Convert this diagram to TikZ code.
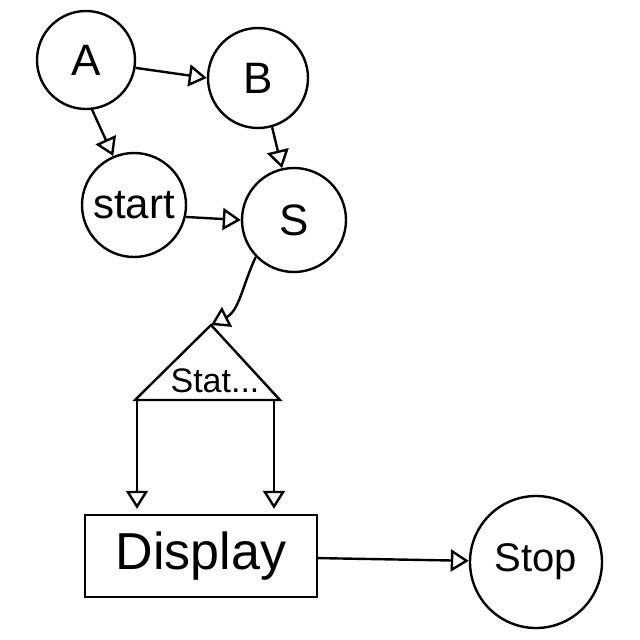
\documentclass[tikz,border=0pt]{standalone}
\usepackage{fontspec}
\setmainfont{Liberation Sans}
\usetikzlibrary{arrows.meta}

\begin{document}
\begin{tikzpicture}[x=1pt, y=-1pt, line width=2.4pt,
    state/.style={draw, circle, inner sep=0pt},
    flow/.style={-{Triangle[open, length=18pt, width=22pt]}},
    big/.style={font=\fontsize{44}{48}\selectfont}]
  \useasboundingbox (0,0) rectangle (640,640);
  % states
  \node[state, big, minimum size=98pt]  (A)     at (86,60)   {A};
  \node[state, big, minimum size=100pt] (B)     at (258,78)  {B};
  \node[state, minimum size=104pt, font=\fontsize{42}{46}\selectfont] (start) at (134,205) {start};
  \node[state, big, minimum size=104pt] (S)     at (294,220) {S};
  \node[state, minimum size=132pt, font=\fontsize{40}{44}\selectfont] (stop) at (536,562) {Stop};
  % decision triangle
  \coordinate (apex) at (211,325);
  \coordinate (bl) at (137,400);
  \coordinate (br) at (274,400);
  \draw (apex) -- (135,400) -- (280,400) -- cycle;
  \node[font=\fontsize{34}{38}\selectfont] (tri) at (215,381) {Stat...};
  % display box
  \node[draw, minimum width=232pt, minimum height=82pt,
        font=\fontsize{52}{56}\selectfont] (disp) at (201,556) {Display};
  % arrows
  \draw[flow] (A.-9) -- (B.west);
  \draw[flow] (A.-83) -- (start.113);
  \draw[flow] (B.-74) -- (S.103);
  \draw[flow] (start.-13) -- (S.west);
  \draw[flow] (S.-136) to[out=-115, in=27] (apex);
  \foreach \c in {bl,br}
    \draw[flow] (\c) -- ([yshift=5pt]\c |- disp.north);
  \draw[flow] (disp) -- (stop);
\end{tikzpicture}
\end{document}
